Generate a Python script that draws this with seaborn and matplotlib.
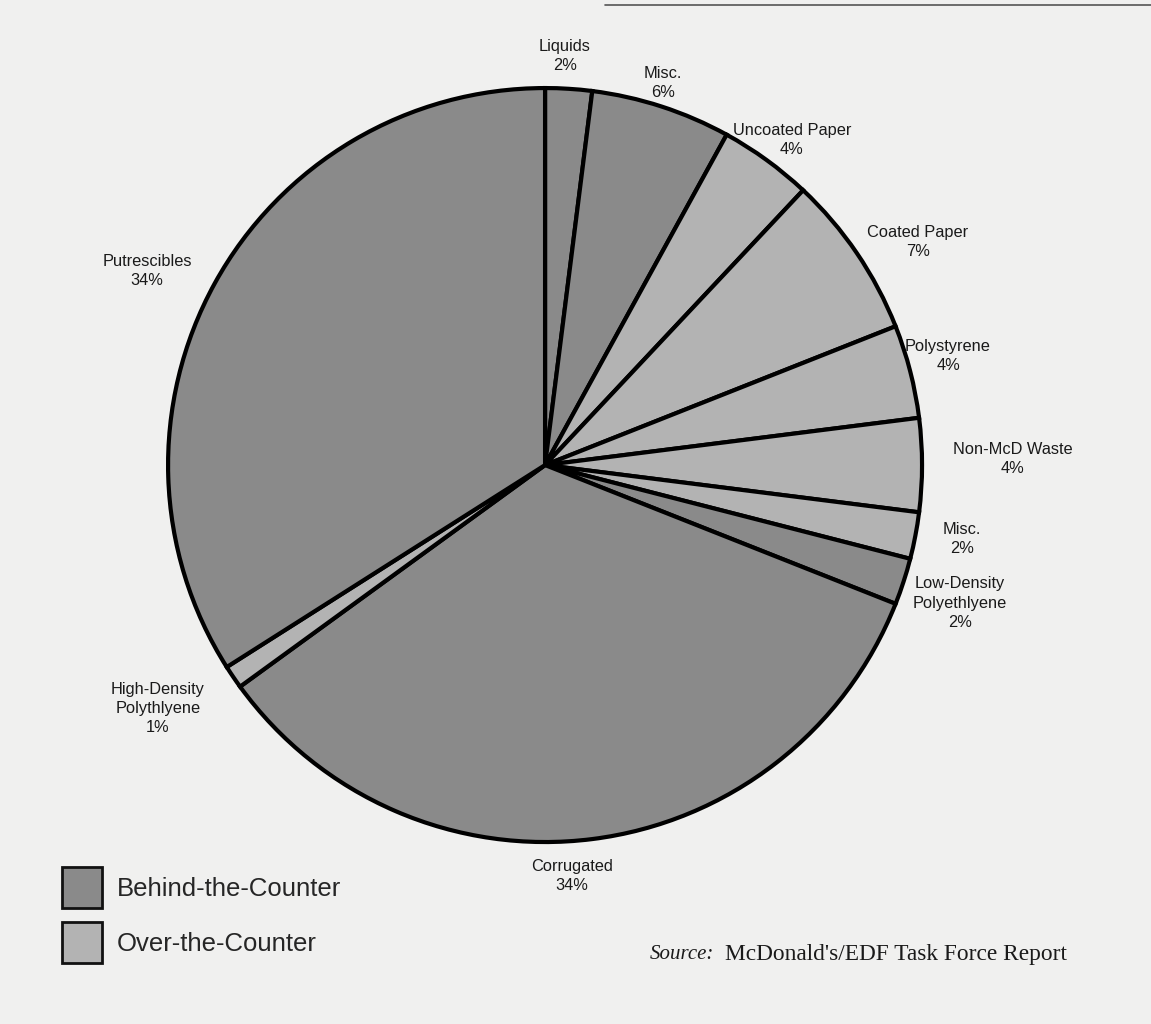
import matplotlib
matplotlib.use("Agg")
import matplotlib.pyplot as plt
from matplotlib.patches import Patch
from matplotlib.lines import Line2D
import seaborn as sns

# ---- data ----
categories = ["Liquids", "Misc.", "Uncoated Paper", "Coated Paper", "Polystyrene",
              "Non-McD Waste", "Misc.", "Low-Density\nPolyethlyene", "Corrugated",
              "High-Density\nPolythlyene", "Putrescibles"]
shares = [2, 6, 4, 7, 4, 4, 2, 2, 34, 1, 34]
groups = ["Behind", "Behind", "Over", "Over", "Over", "Over", "Over", "Behind",
          "Behind", "Over", "Behind"]
legend_labels = ["Behind-the-Counter", "Over-the-Counter"]

# label positions (pie data units, radius = 1)
label_pos = [(0.053, 1.085), (0.313, 1.014), (0.655, 0.862), (0.989, 0.592),
             (1.069, 0.289), (1.241, 0.016), (1.106, -0.196), (1.101, -0.366),
             (0.072, -1.090), (-1.027, -0.645), (-1.056, 0.515)]

sns.set_theme(style="white")
plt.rcParams["font.family"] = ["Liberation Sans", "DejaVu Sans"]

bg = "#f0f0ef"
palette = {"Behind": "#8a8a8a", "Over": "#b3b3b3"}

fig = plt.figure(figsize=(11.51, 10.24), dpi=100, facecolor=bg)
ax = fig.add_axes([0.1460, 0.1777, 0.6551, 0.7363])
ax.set_facecolor(bg)

colors = [palette[g] for g in groups]
ax.pie(shares, startangle=90, counterclock=False, colors=colors, radius=1,
       wedgeprops=dict(edgecolor="black", linewidth=3.0, joinstyle="miter"))
ax.set_xlim(-1, 1)
ax.set_ylim(-1, 1)
ax.set_aspect("equal")
ax.axis("off")

for cat, val, (x, y) in zip(categories, shares, label_pos):
    ax.text(x, y, f"{cat}\n{val}%", ha="center", va="center", fontsize=11.8,
            color="#1a1a1a", linespacing=1.35)

# legend
handles = [Patch(facecolor=palette["Behind"], edgecolor="#111111", linewidth=2),
           Patch(facecolor=palette["Over"], edgecolor="#111111", linewidth=2)]
fig.legend(handles, legend_labels, loc="upper left",
           bbox_to_anchor=(0.054, 0.153), frameon=False, fontsize=18.5,
           handlelength=1.57, handleheight=2.06, handletextpad=0.55,
           labelspacing=0.55, borderpad=0, borderaxespad=0)

# source
fig.text(0.5647, 0.0675, "Source:", fontsize=15, style="italic",
         family=["Liberation Serif", "DejaVu Serif"], color="#1a1a1a",
         ha="left", va="center")
fig.text(0.630, 0.0675, "McDonald's/EDF Task Force Report", fontsize=16.8,
         family=["Liberation Serif", "DejaVu Serif"], color="#1a1a1a",
         ha="left", va="center")

# scan edge line at top
fig.add_artist(Line2D([0.526, 1.0], [0.995, 0.995], transform=fig.transFigure,
                      color="#555555", linewidth=1.2))

fig.savefig("out.png", dpi=100, facecolor=bg)
